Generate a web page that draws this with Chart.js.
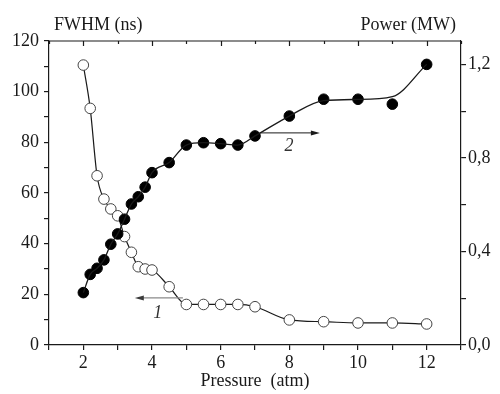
<!DOCTYPE html>
<html lang="en">
<head>
    <meta charset="UTF-8">
    <title>FWHM and Power vs Pressure</title>
    <!-- Chart.js -->
    <script src="https://cdn.jsdelivr.net/npm/chart.js"></script>
    <style>
        body { margin: 0; background: #fff; }
    </style>
</head>
<body>
    <canvas id="pressureChart" width="500" height="394"></canvas>

    <script>
        // Pressure values (atm), same for both curves
        const pressure = [2, 2.2, 2.4, 2.6, 2.8, 3, 3.2, 3.4, 3.6, 3.8, 4, 4.5, 5, 5.5, 6, 6.5, 7, 8, 9, 10, 11, 12];
        // Curve 1: pulse width FWHM (ns), open circles, left axis
        const fwhm = [110.5, 93.4, 66.8, 57.6, 53.7, 51, 42.8, 36.6, 30.9, 30, 29.6, 23, 16, 16, 16, 16, 15.1, 9.9, 9.2, 8.7, 8.7, 8.3];
        // Curve 2: output power (MW), filled circles, right axis
        const power = [0.224, 0.302, 0.328, 0.364, 0.431, 0.475, 0.538, 0.603, 0.634, 0.675, 0.737, 0.78, 0.855, 0.865, 0.861, 0.855, 0.894, 0.979, 1.051, 1.051, 1.03, 1.2];
        // Smooth line drawn through the power points
        const powerFitX = [2, 2.2, 2.4, 2.6, 2.8, 3, 3.2, 3.4, 3.6, 3.8, 4, 4.5, 5, 5.5, 6, 6.5, 7, 8, 9, 10, 11, 12];
        const powerFit = [0.224, 0.302, 0.328, 0.364, 0.431, 0.475, 0.538, 0.603, 0.634, 0.675, 0.737, 0.78, 0.855, 0.865, 0.861, 0.855, 0.894, 0.979, 1.045, 1.05, 1.062, 1.2];

        // Tick labels
        const xTickLabels = [2, 4, 6, 8, 10, 12];
        const leftTickLabels = [0, 20, 40, 60, 80, 100, 120];
        const rightTickLabels = ['0,0', '0,4', '0,8', '1,2'];

        const serif = "'Liberation Serif', 'Times New Roman', serif";
        const ink = '#1a1a1a';

        const toPts = (xs, ys) => xs.map((x, i) => ({ x: x, y: ys[i] }));

        // Titles, top border with inward ticks, arrows and curve numbers
        const decorations = {
            id: 'decorations',
            afterDraw(chart) {
                const ctx = chart.ctx;
                const area = chart.chartArea;
                const sx = chart.scales.x, sy = chart.scales.y, sy1 = chart.scales.y1;
                ctx.save();
                ctx.strokeStyle = ink;
                ctx.lineWidth = 1.2;

                // top frame line and its ticks pointing into the plot
                ctx.beginPath();
                ctx.moveTo(area.left, area.top);
                ctx.lineTo(area.right, area.top);
                for (let v = 1; v <= 13; v++) {
                    const px = Math.round(sx.getPixelForValue(v)) + 0.5;
                    ctx.moveTo(px, area.top);
                    ctx.lineTo(px, area.top + (v % 2 === 0 ? 5 : 3));
                }
                ctx.stroke();

                // axis titles at the top
                ctx.fillStyle = ink;
                ctx.font = '18px ' + serif;
                ctx.textBaseline = 'middle';
                ctx.textAlign = 'left';
                ctx.fillText('FWHM (ns)', 54, 25);
                ctx.textAlign = 'right';
                ctx.fillText('Power (MW)', 456, 25);

                // arrow 1 -> left axis
                const a1y = sy.getPixelForValue(18.6);
                const a1x0 = sx.getPixelForValue(4.9), a1x1 = sx.getPixelForValue(3.5);
                ctx.strokeStyle = '#8a8a8a';
                ctx.fillStyle = '#3a3a3a';
                ctx.lineWidth = 1.2;
                ctx.beginPath();
                ctx.moveTo(a1x0, a1y);
                ctx.lineTo(a1x1 + 6, a1y);
                ctx.stroke();
                ctx.beginPath();
                ctx.moveTo(a1x1, a1y);
                ctx.lineTo(a1x1 + 9, a1y - 2.5);
                ctx.lineTo(a1x1 + 9, a1y + 2.5);
                ctx.closePath();
                ctx.fill();

                // arrow 2 -> right axis
                const a2y = sy1.getPixelForValue(0.907);
                const a2x0 = sx.getPixelForValue(7.15), a2x1 = sx.getPixelForValue(8.89);
                ctx.strokeStyle = ink;
                ctx.fillStyle = ink;
                ctx.lineWidth = 1;
                ctx.beginPath();
                ctx.moveTo(a2x0, a2y);
                ctx.lineTo(a2x1 - 6, a2y);
                ctx.stroke();
                ctx.beginPath();
                ctx.moveTo(a2x1, a2y);
                ctx.lineTo(a2x1 - 9, a2y - 2.5);
                ctx.lineTo(a2x1 - 9, a2y + 2.5);
                ctx.closePath();
                ctx.fill();

                // curve numbers
                ctx.font = 'italic 18px ' + serif;
                ctx.textAlign = 'center';
                ctx.fillStyle = '#333';
                ctx.fillText('1', sx.getPixelForValue(4.17), sy.getPixelForValue(12.6));
                ctx.fillText('2', sx.getPixelForValue(7.99), sy1.getPixelForValue(0.851));
                ctx.restore();
            }
        };

        const axisGrid = {
            drawOnChartArea: false,
            color: ink,
            tickColor: ink,
            tickLength: 5,
            lineWidth: 1.2
        };
        const axisBorder = { display: true, color: ink, width: 1.2 };

        new Chart(document.getElementById('pressureChart').getContext('2d'), {
            type: 'scatter',
            data: {
                datasets: [
                    {
                        label: 'Power fit',
                        data: toPts(powerFitX, powerFit),
                        yAxisID: 'y1',
                        showLine: true,
                        borderColor: ink,
                        borderWidth: 1.3,
                        pointRadius: 0,
                        cubicInterpolationMode: 'monotone'
                    },
                    {
                        label: 'Power (MW)',
                        data: toPts(pressure, power),
                        yAxisID: 'y1',
                        showLine: false,
                        pointRadius: 5.3,
                        pointBackgroundColor: '#000',
                        pointBorderColor: '#000',
                        pointBorderWidth: 1
                    },
                    {
                        label: 'FWHM (ns)',
                        data: toPts(pressure, fwhm),
                        yAxisID: 'y',
                        showLine: true,
                        borderColor: ink,
                        borderWidth: 1.2,
                        cubicInterpolationMode: 'monotone',
                        pointRadius: 5.3,
                        pointBackgroundColor: '#fff',
                        pointBorderColor: '#444',
                        pointBorderWidth: 1
                    }
                ]
            },
            options: {
                responsive: false,
                animation: false,
                layout: { padding: { top: 41, left: 0, right: 0, bottom: 0 } },
                plugins: {
                    legend: { display: false },
                    tooltip: { enabled: false }
                },
                scales: {
                    x: {
                        type: 'linear',
                        position: 'bottom',
                        min: 1,
                        max: 13,
                        grid: axisGrid,
                        border: axisBorder,
                        ticks: {
                            stepSize: 1,
                            autoSkip: false,
                            maxRotation: 0,
                            padding: 2,
                            color: ink,
                            font: { family: serif, size: 18 },
                            callback: v => xTickLabels.includes(v) ? String(v) : ''
                        },
                        title: {
                            display: true,
                            text: 'Pressure  (atm)',
                            color: ink,
                            font: { family: serif, size: 18 },
                            padding: { top: 0, bottom: 2 }
                        },
                        afterFit: s => { s.height = 49; }
                    },
                    y: {
                        position: 'left',
                        min: 0,
                        max: 120,
                        grid: axisGrid,
                        border: axisBorder,
                        ticks: {
                            stepSize: 10,
                            autoSkip: false,
                            padding: 5,
                            color: ink,
                            font: { family: serif, size: 18 },
                            callback: v => leftTickLabels.includes(v) ? String(v) : ''
                        },
                        afterFit: s => { s.width = 49; }
                    },
                    y1: {
                        position: 'right',
                        min: 0,
                        max: 1.3,
                        grid: axisGrid,
                        border: axisBorder,
                        ticks: {
                            stepSize: 0.2,
                            includeBounds: false,
                            autoSkip: false,
                            padding: 2,
                            color: ink,
                            font: { family: serif, size: 18 },
                            callback: v => {
                                const k = Math.round(v * 10);
                                return k % 4 === 0 ? rightTickLabels[k / 4] : '';
                            }
                        },
                        afterFit: s => { s.width = 39; }
                    }
                }
            },
            plugins: [decorations]
        });
    </script>
</body>
</html>
